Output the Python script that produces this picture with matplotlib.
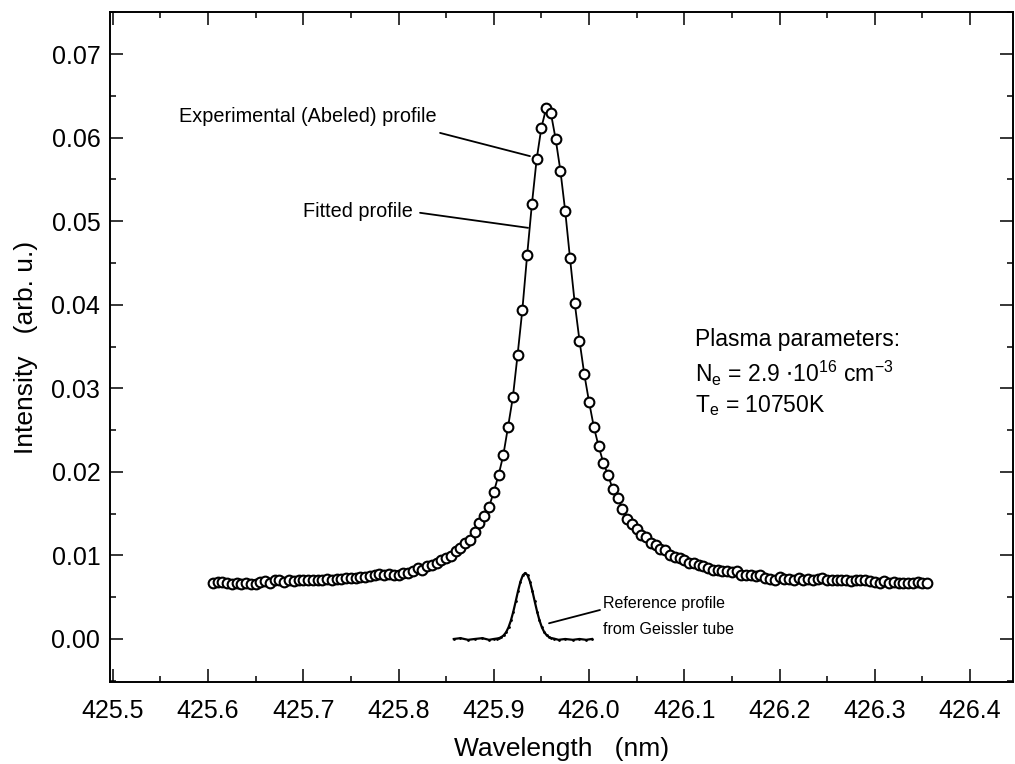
import numpy as np
import matplotlib
matplotlib.use("Agg")
import matplotlib.pyplot as plt
from matplotlib.ticker import MultipleLocator, FormatStrFormatter

plt.rcParams['font.family'] = ['Liberation Sans', 'DejaVu Sans']

# Experimental (Abeled) profile, sampled every 0.005 nm starting at 425.605 nm
wl_start = 425.605
wl_step = 0.005
intensity = [
    # 425.605 - 425.800
    0.0067, 0.0068, 0.0068, 0.0067, 0.0066, 0.0067, 0.0066, 0.0067, 0.0066, 0.0066,
    0.0068, 0.0069, 0.0067, 0.0070, 0.0071, 0.0068, 0.0070, 0.0069, 0.0070, 0.0070,
    0.0071, 0.0070, 0.0071, 0.0071, 0.0072, 0.0071, 0.0072, 0.0072, 0.0073, 0.0073,
    0.0073, 0.0074, 0.0074, 0.0075, 0.0077, 0.0078, 0.0076, 0.0078, 0.0077, 0.0077,
    # 425.805 - 425.900
    0.0079, 0.0079, 0.0081, 0.0085, 0.0082, 0.0087, 0.0089, 0.0091, 0.0095, 0.0097,
    0.0099, 0.0105, 0.0109, 0.0115, 0.0119, 0.0128, 0.0139, 0.0147, 0.0158, 0.0176,
    # 425.905 - 426.000
    0.0196, 0.0220, 0.0254, 0.0289, 0.0340, 0.0394, 0.0459, 0.0520, 0.0574, 0.0612,
    0.0635, 0.0629, 0.0598, 0.0560, 0.0512, 0.0456, 0.0402, 0.0357, 0.0317, 0.0284,
    # 426.005 - 426.100
    0.0254, 0.0231, 0.0211, 0.0196, 0.0179, 0.0169, 0.0156, 0.0144, 0.0138, 0.0132,
    0.0124, 0.0122, 0.0115, 0.0112, 0.0108, 0.0107, 0.0100, 0.0098, 0.0097, 0.0094,
    # 426.105 - 426.200
    0.0091, 0.0091, 0.0089, 0.0087, 0.0085, 0.0083, 0.0082, 0.0081, 0.0081, 0.0080,
    0.0081, 0.0077, 0.0076, 0.0076, 0.0075, 0.0076, 0.0073, 0.0072, 0.0071, 0.0074,
    # 426.205 - 426.300
    0.0072, 0.0072, 0.0071, 0.0073, 0.0071, 0.0072, 0.0070, 0.0072, 0.0073, 0.0071,
    0.0071, 0.0071, 0.0070, 0.0071, 0.0069, 0.0070, 0.0070, 0.0071, 0.0069, 0.0068,
    # 426.305 - 426.355
    0.0067, 0.0069, 0.0067, 0.0068, 0.0067, 0.0067, 0.0067, 0.0067, 0.0068, 0.0067,
    0.0067,
]
wavelength = np.round(wl_start + wl_step * np.arange(len(intensity)), 4)

# Fitted profile (drawn through the experimental samples)
fitted = intensity

# Reference profile from Geissler tube
ref_wavelength = [425.858, 425.865, 425.873, 425.880, 425.888, 425.895, 425.900,
                  425.903, 425.9055, 425.908, 425.9105, 425.913, 425.9155, 425.918,
                  425.9205, 425.923, 425.9255, 425.928, 425.9305, 425.933, 425.9355,
                  425.938, 425.9405, 425.943, 425.9455, 425.948, 425.9505, 425.953,
                  425.9555, 425.958, 425.9605, 425.963, 425.968, 425.975, 425.983,
                  425.990, 425.997, 426.003]
ref_intensity = [0.0000, 0.0001, -0.0001, 0.0000, 0.0001, -0.0001, 0.0000,
                 0.00005, 0.0001, 0.00023, 0.00045, 0.00082, 0.0014, 0.00222,
                 0.00327, 0.00449, 0.00575, 0.00686, 0.00763, 0.0079, 0.00763,
                 0.00686, 0.00575, 0.00449, 0.00327, 0.00222, 0.0014, 0.00082,
                 0.00045, 0.00023, 0.0001, 0.00005, -0.0001, 0.0000, -0.0001,
                 0.0000, -0.0001, 0.0000]

x_ticks = [425.5, 425.6, 425.7, 425.8, 425.9, 426.0, 426.1, 426.2, 426.3, 426.4]
y_ticks = [0.00, 0.01, 0.02, 0.03, 0.04, 0.05, 0.06, 0.07]

fig = plt.figure(figsize=(10.15, 7.64), dpi=100)
ax = fig.add_axes([0.1084, 0.1073, 0.8896, 0.8770])

ax.plot(wavelength, fitted, color='black', lw=1.3, zorder=2)
ax.plot(wavelength, intensity, linestyle='none', marker='o', markersize=7.0,
        markerfacecolor='white', markeredgecolor='black', markeredgewidth=1.5, zorder=3)
ax.plot(ref_wavelength, ref_intensity, color='black', lw=1.6, zorder=2)
ax.plot(ref_wavelength, ref_intensity, linestyle='none', marker='.', markersize=2,
        color='black', zorder=2)

ax.set_xlim(425.4971, 426.4451)
ax.set_ylim(-0.00515, 0.07503)
ax.set_xticks(x_ticks)
ax.set_yticks(y_ticks)
ax.xaxis.set_minor_locator(MultipleLocator(0.05))
ax.yaxis.set_minor_locator(MultipleLocator(0.005))
ax.xaxis.set_major_formatter(FormatStrFormatter('%.1f'))
ax.yaxis.set_major_formatter(FormatStrFormatter('%.2f'))

ax.tick_params(which='both', direction='in', top=True, right=True, colors='black')
ax.tick_params(which='major', length=9.5, width=1.1, labelsize=18)
ax.tick_params(which='minor', length=4.5, width=1.1)
ax.tick_params(axis='x', which='major', pad=12)
ax.tick_params(axis='y', which='major', pad=7)
for s in ax.spines.values():
    s.set_linewidth(1.4)
    s.set_color('black')

ax.set_xlabel('Wavelength   (nm)', fontsize=19, labelpad=10)
ax.set_ylabel('Intensity   (arb. u.)', fontsize=19, labelpad=10)

line_kw = dict(arrowstyle='-', color='black', lw=1.3, shrinkA=0, shrinkB=0)

# Annotations
ax.text(425.8405, 0.0625, 'Experimental (Abeled) profile', ha='right', va='center', fontsize=14.3)
ax.annotate('', xy=(425.938, 0.05778), xytext=(425.8436, 0.06056), arrowprops=line_kw)

ax.text(425.8150, 0.0512, 'Fitted profile', ha='right', va='center', fontsize=14.3)
ax.annotate('', xy=(425.936, 0.0492), xytext=(425.8226, 0.0510), arrowprops=line_kw)

ax.annotate('', xy=(425.958, 0.00188), xytext=(426.0115, 0.00347), arrowprops=line_kw)
ax.text(426.015, 0.00427, 'Reference profile', ha='left', va='center', fontsize=11.5)
ax.text(426.015, 0.00116, 'from Geissler tube', ha='left', va='center', fontsize=11.5)

ax.text(426.111, 0.0358, 'Plasma parameters:', ha='left', va='center', fontsize=16.5)
ax.text(426.111, 0.0318, r'N$_\mathregular{e}$ = 2.9 $\cdot$10$^{\mathregular{16}}$ cm$^{\mathregular{-3}}$',
        ha='left', va='center', fontsize=16.5)
ax.text(426.111, 0.0279, r'T$_\mathregular{e}$ = 10750K', ha='left', va='center', fontsize=16.5)

fig.savefig('out.png', dpi=100, facecolor='white')
